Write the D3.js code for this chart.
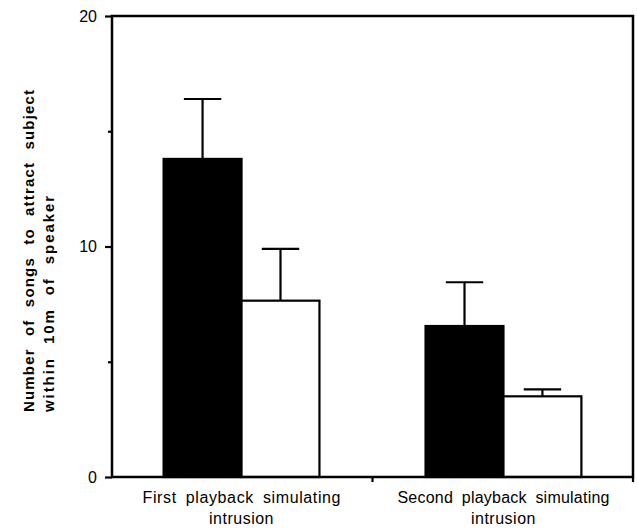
<!DOCTYPE html>
<html>
<head>
<meta charset="utf-8">
<script src="https://cdn.jsdelivr.net/npm/d3@7"></script>
<style>
  html, body { margin: 0; padding: 0; background: #fff; }
  svg { display: block; }
  text { font-family: "Liberation Sans", Arial, Helvetica, sans-serif; fill: #000; }
</style>
</head>
<body>
<svg id="chart" width="637" height="529"></svg>
<script>
// ---- data ----
const categories = ["First playback simulating|intrusion", "Second playback simulating|intrusion"];
const seriesNames = ["black", "white"];
const meanBlack = [13.8, 6.55];
const errBlack  = [16.4, 8.45];
const meanWhite = [7.65, 3.5];
const errWhite  = [9.9, 3.8];
const yTicks = [0, 10, 20];
const yMinorTicks = [5, 15];
const yTitle = ["Number of songs to attract subject", "within 10m of speaker"];

// ---- layout ----
const svg = d3.select("#chart");
const plotL = 112, plotR = 633, plotT = 16, plotB = 477;

const y = d3.scaleLinear().domain([0, 20]).range([plotB, plotT]);
const x0 = d3.scaleBand().domain(categories).range([plotL, plotR])
  .paddingInner(0.405).paddingOuter(0.197);
const x1 = d3.scaleBand().domain(seriesNames).range([0, x0.bandwidth()]);

const rows = [];
categories.forEach((c, i) => {
  rows.push({cat: c, s: "black", v: meanBlack[i], e: errBlack[i]});
  rows.push({cat: c, s: "white", v: meanWhite[i], e: errWhite[i]});
});

// error bars
const eg = svg.append("g").attr("stroke", "#000").attr("stroke-width", 2.2);
rows.forEach(d => {
  const cx = x0(d.cat) + x1(d.s) + x1.bandwidth() / 2;
  const cap = x1.bandwidth() * 0.24;
  eg.append("line").attr("x1", cx).attr("x2", cx).attr("y1", y(d.v)).attr("y2", y(d.e));
  eg.append("line").attr("x1", cx - cap).attr("x2", cx + cap).attr("y1", y(d.e)).attr("y2", y(d.e));
});

// bars
svg.append("g").selectAll("rect").data(rows).join("rect")
  .attr("x", d => x0(d.cat) + x1(d.s))
  .attr("width", x1.bandwidth())
  .attr("y", d => y(d.v))
  .attr("height", d => y(0) - y(d.v))
  .attr("fill", d => d.s === "black" ? "#000" : "#fff")
  .attr("stroke", "#000")
  .attr("stroke-width", 2.2);

// frame
svg.append("path")
  .attr("d", `M${plotL},${plotB}V${plotT}H${plotR}V${plotB}Z`)
  .attr("fill", "none").attr("stroke", "#000").attr("stroke-width", 2.5);

// y axis ticks + labels
const yAxis = d3.axisLeft(y).tickValues(yTicks).tickSize(7).tickPadding(8).tickFormat(d3.format("d"));
const ga = svg.append("g").attr("transform", `translate(${plotL},0)`).call(yAxis);
ga.select(".domain").remove();
ga.selectAll(".tick line").attr("stroke-width", 2.2);
ga.selectAll(".tick text").style("font-size", "16px").style("font-family", "Liberation Sans, Arial, sans-serif");
const gm = svg.append("g").attr("transform", `translate(${plotL},0)`)
  .call(d3.axisLeft(y).tickValues(yMinorTicks).tickSize(4).tickFormat(""));
gm.select(".domain").remove();
gm.selectAll(".tick line").attr("stroke-width", 2.2);

// x axis ticks at cell boundaries
const mid = (x0(categories[0]) + x0.bandwidth() + x0(categories[1])) / 2;
[mid, plotR].forEach(px => {
  svg.append("line").attr("x1", px).attr("x2", px).attr("y1", plotB).attr("y2", plotB + 5)
    .attr("stroke", "#000").attr("stroke-width", 2.2);
});

// x category labels
const labelLen = [198, 212];
categories.forEach((c, ci) => {
  const parts = c.split("|");
  const cx = x0(c) + x0.bandwidth() / 2;
  parts.forEach((p, i) => {
    const t = svg.append("text").attr("text-anchor", "middle")
      .attr("x", cx).attr("y", 503 + i * 21)
      .style("font-size", "16px").style("letter-spacing", i === 1 ? "0.5px" : null)
      .style("word-spacing", "4px")
      .text(p);
    if (i === 0) t.attr("textLength", labelLen[ci]).attr("lengthAdjust", "spacing");
  });
});

// y title
const titleLen = [322, 216];
yTitle.forEach((line, i) => {
  svg.append("text")
    .attr("transform", `translate(${34 + i * 20},412) rotate(-90)`)
    .attr("text-anchor", "start")
    .attr("textLength", titleLen[i]).attr("lengthAdjust", "spacing")
    .style("font-size", "15px").style("font-weight", "bold")
    .style("word-spacing", "7px")
    .text(line);
});
</script>
</body>
</html>
